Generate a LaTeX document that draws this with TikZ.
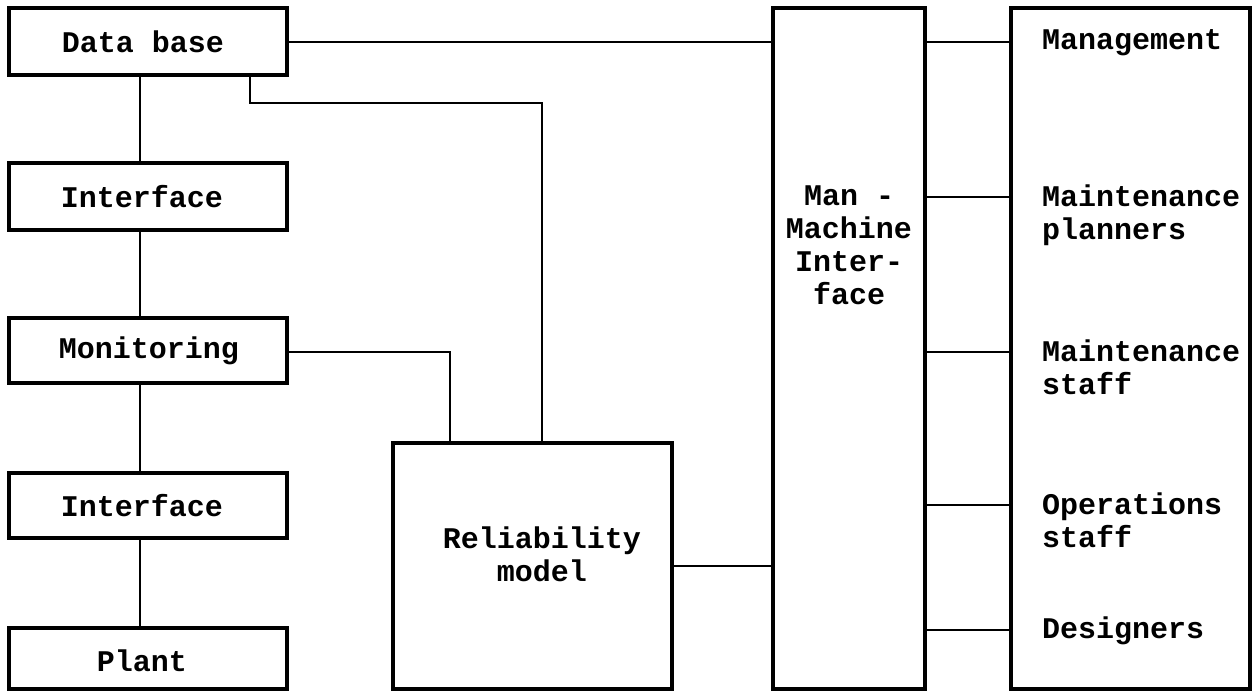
\documentclass[tikz,border=0pt]{standalone}
\usepackage{fontspec}
\setmonofont{Liberation Mono}
\begin{document}
\begin{tikzpicture}[x=1pt,y=-1pt,
  box/.style={draw,line width=4.5pt,inner sep=0pt,outer sep=0pt,anchor=center},
  wire/.style={line width=2.8pt},
  lbl/.style={font=\ttfamily\bfseries\fontsize{30}{33}\selectfont,inner sep=0pt}]
\useasboundingbox (0,0) rectangle (1253,692);
% left column
\node[box,minimum width=278pt,minimum height=67pt] (db) at (148,41.5) {};
\node[box,minimum width=278pt,minimum height=67pt] (if1) at (148,196.5) {};
\node[box,minimum width=278pt,minimum height=65pt] (mon) at (148,350.5) {};
\node[box,minimum width=278pt,minimum height=65pt] (if2) at (148,505.5) {};
\node[box,minimum width=278pt,minimum height=61pt] (plant) at (148,658.5) {};
\node[lbl] (tdb) at (143,42) {Data base};
\node[lbl] (tif1) at (142,197) {Interface};
\node[lbl] (tmon) at (149,351) {Monitoring};
\node[lbl] (tif2) at (142,506) {Interface};
\node[lbl] (tplant) at (142,661) {Plant};
% reliability model
\node[box,minimum width=279pt,minimum height=246pt] (rel) at (532.5,566) {};
\node[lbl,align=center] (trel) at (542,554) {Reliability\\model};
% man-machine interface
\node[box,minimum width=152pt,minimum height=681pt] (mmi) at (849,348.5) {};
\node[lbl,align=center,anchor=north] (tmmi) at (849,186) {Man -\\Machine\\Inter-\\face};
% users
\node[box,minimum width=239pt,minimum height=681pt] (usr) at (1130.5,348.5) {};
\node[lbl,anchor=west] (u1) at (1042,43) {Management};
\node[lbl,anchor=north west,align=left] (u2) at (1042,185) {Maintenance\\planners};
\node[lbl,anchor=north west,align=left] (u3) at (1042,340) {Maintenance\\staff};
\node[lbl,anchor=north west,align=left] (u4) at (1042,493) {Operations\\staff};
\node[lbl,anchor=west] (u5) at (1042,631) {Designers};
% coordinates
\coordinate (cx) at (140,0);
\coordinate (t1) at (250,103);
\coordinate (t2) at (542,103);
\coordinate (t3) at (450,352);
\coordinate (y1) at (0,42);
\coordinate (y2) at (0,197);
\coordinate (y3) at (0,352);
\coordinate (y4) at (0,505);
\coordinate (y5) at (0,630);
% vertical chain
\draw[wire] (db.south -| cx) -- (if1.north -| cx);
\draw[wire] (if1.south -| cx) -- (mon.north -| cx);
\draw[wire] (mon.south -| cx) -- (if2.north -| cx);
\draw[wire] (if2.south -| cx) -- (plant.north -| cx);
% data base links
\draw[wire] (db.east |- y1) -- (mmi.west |- y1);
\draw[wire] (db.south -| t1) -- (t1) -- (t2) -- (rel.north -| t2);
% monitoring link
\draw[wire] (mon.east |- t3) -- (t3) -- (rel.north -| t3);
% reliability to mmi
\draw[wire] (rel.east) -- (mmi.west |- rel.east);
% mmi to users
\draw[wire] (mmi.east |- y1) -- (usr.west |- y1);
\draw[wire] (mmi.east |- y2) -- (usr.west |- y2);
\draw[wire] (mmi.east |- y3) -- (usr.west |- y3);
\draw[wire] (mmi.east |- y4) -- (usr.west |- y4);
\draw[wire] (mmi.east |- y5) -- (usr.west |- y5);
\end{tikzpicture}
\end{document}
